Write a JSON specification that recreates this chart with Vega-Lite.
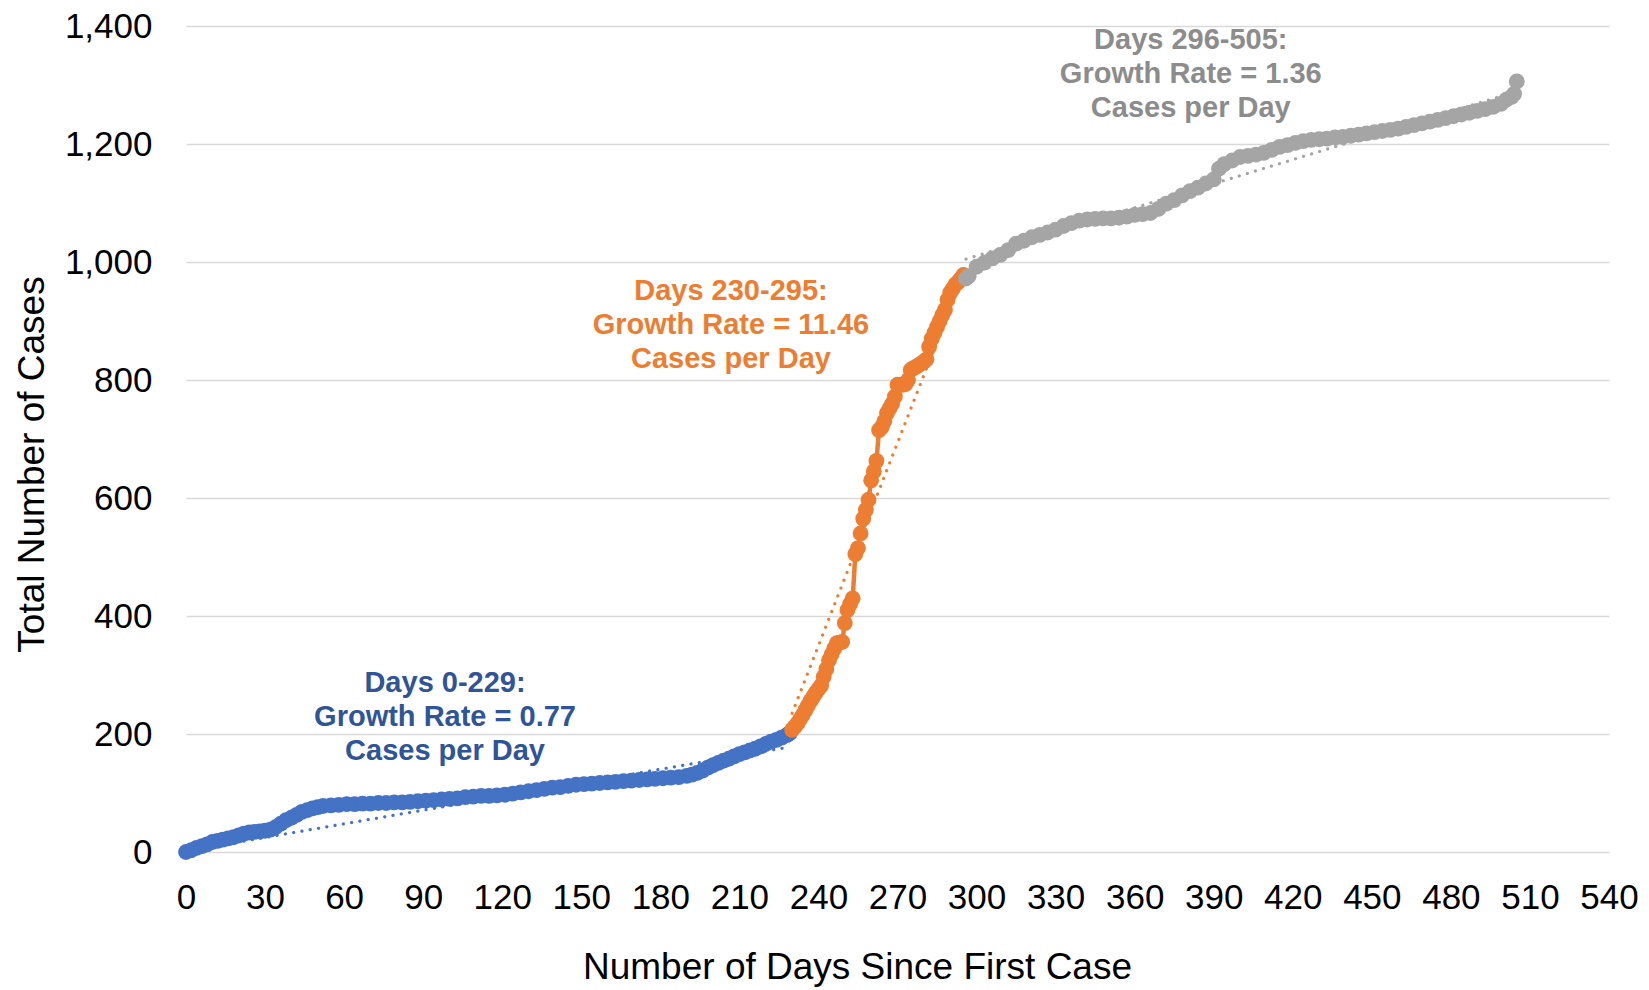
{
  "$schema": "https://vega.github.io/schema/vega-lite/v6.json",
  "width": 1423,
  "height": 826,
  "autosize": {"type": "none"},
  "padding": {"left": 186, "top": 26, "right": 40, "bottom": 138},
  "background": "white",
  "config": {
    "view": {"stroke": null},
    "font": "Liberation Sans",
    "axis": {"labelFont": "Liberation Sans", "titleFont": "Liberation Sans", "labelColor": "#000000", "titleColor": "#000000", "titleFontWeight": "normal", "labelFontSize": 35, "titleFontSize": 37, "domain": false, "ticks": false, "labelOverlap": false, "labelFlush": false}
  },
  "datasets": {
    "cases": [
      {"series": "Days 0-229", "day": 0, "value": 0}, {"series": "Days 0-229", "day": 2, "value": 3}, {"series": "Days 0-229", "day": 4, "value": 7}, {"series": "Days 0-229", "day": 6, "value": 10}, {"series": "Days 0-229", "day": 8, "value": 13}, {"series": "Days 0-229", "day": 10, "value": 17}, {"series": "Days 0-229", "day": 12, "value": 19}, {"series": "Days 0-229", "day": 14, "value": 21}, {"series": "Days 0-229", "day": 16, "value": 23}, {"series": "Days 0-229", "day": 18, "value": 25}, {"series": "Days 0-229", "day": 20, "value": 28}, {"series": "Days 0-229", "day": 22, "value": 31}, {"series": "Days 0-229", "day": 24, "value": 33}, {"series": "Days 0-229", "day": 26, "value": 34}, {"series": "Days 0-229", "day": 28, "value": 35}, {"series": "Days 0-229", "day": 30, "value": 36}, {"series": "Days 0-229", "day": 32, "value": 38}, {"series": "Days 0-229", "day": 34, "value": 42}, {"series": "Days 0-229", "day": 36, "value": 48}, {"series": "Days 0-229", "day": 38, "value": 54}, {"series": "Days 0-229", "day": 40, "value": 58}, {"series": "Days 0-229", "day": 42, "value": 63}, {"series": "Days 0-229", "day": 44, "value": 68}, {"series": "Days 0-229", "day": 46, "value": 71}, {"series": "Days 0-229", "day": 48, "value": 74}, {"series": "Days 0-229", "day": 50, "value": 76}, {"series": "Days 0-229", "day": 52, "value": 78}, {"series": "Days 0-229", "day": 55, "value": 79}, {"series": "Days 0-229", "day": 58, "value": 80}, {"series": "Days 0-229", "day": 61, "value": 81}, {"series": "Days 0-229", "day": 64, "value": 81}, {"series": "Days 0-229", "day": 67, "value": 82}, {"series": "Days 0-229", "day": 70, "value": 82}, {"series": "Days 0-229", "day": 73, "value": 83}, {"series": "Days 0-229", "day": 76, "value": 83}, {"series": "Days 0-229", "day": 79, "value": 84}, {"series": "Days 0-229", "day": 82, "value": 84}, {"series": "Days 0-229", "day": 85, "value": 85}, {"series": "Days 0-229", "day": 88, "value": 86}, {"series": "Days 0-229", "day": 91, "value": 87}, {"series": "Days 0-229", "day": 94, "value": 88}, {"series": "Days 0-229", "day": 97, "value": 89}, {"series": "Days 0-229", "day": 100, "value": 90}, {"series": "Days 0-229", "day": 103, "value": 91}, {"series": "Days 0-229", "day": 106, "value": 93}, {"series": "Days 0-229", "day": 109, "value": 94}, {"series": "Days 0-229", "day": 112, "value": 95}, {"series": "Days 0-229", "day": 115, "value": 95}, {"series": "Days 0-229", "day": 118, "value": 96}, {"series": "Days 0-229", "day": 121, "value": 97}, {"series": "Days 0-229", "day": 124, "value": 99}, {"series": "Days 0-229", "day": 127, "value": 101}, {"series": "Days 0-229", "day": 130, "value": 103}, {"series": "Days 0-229", "day": 133, "value": 105}, {"series": "Days 0-229", "day": 136, "value": 107}, {"series": "Days 0-229", "day": 139, "value": 109}, {"series": "Days 0-229", "day": 142, "value": 110}, {"series": "Days 0-229", "day": 145, "value": 112}, {"series": "Days 0-229", "day": 148, "value": 114}, {"series": "Days 0-229", "day": 151, "value": 115}, {"series": "Days 0-229", "day": 154, "value": 116}, {"series": "Days 0-229", "day": 157, "value": 117}, {"series": "Days 0-229", "day": 160, "value": 118}, {"series": "Days 0-229", "day": 163, "value": 119}, {"series": "Days 0-229", "day": 166, "value": 120}, {"series": "Days 0-229", "day": 169, "value": 121}, {"series": "Days 0-229", "day": 172, "value": 122}, {"series": "Days 0-229", "day": 175, "value": 123}, {"series": "Days 0-229", "day": 178, "value": 124}, {"series": "Days 0-229", "day": 181, "value": 125}, {"series": "Days 0-229", "day": 184, "value": 126}, {"series": "Days 0-229", "day": 187, "value": 127}, {"series": "Days 0-229", "day": 190, "value": 129}, {"series": "Days 0-229", "day": 192, "value": 131}, {"series": "Days 0-229", "day": 194, "value": 134}, {"series": "Days 0-229", "day": 196, "value": 138}, {"series": "Days 0-229", "day": 198, "value": 143}, {"series": "Days 0-229", "day": 200, "value": 147}, {"series": "Days 0-229", "day": 202, "value": 151}, {"series": "Days 0-229", "day": 204, "value": 155}, {"series": "Days 0-229", "day": 206, "value": 158}, {"series": "Days 0-229", "day": 208, "value": 162}, {"series": "Days 0-229", "day": 210, "value": 166}, {"series": "Days 0-229", "day": 212, "value": 169}, {"series": "Days 0-229", "day": 214, "value": 172}, {"series": "Days 0-229", "day": 216, "value": 175}, {"series": "Days 0-229", "day": 218, "value": 179}, {"series": "Days 0-229", "day": 220, "value": 183}, {"series": "Days 0-229", "day": 222, "value": 187}, {"series": "Days 0-229", "day": 224, "value": 190}, {"series": "Days 0-229", "day": 226, "value": 194}, {"series": "Days 0-229", "day": 228, "value": 198}, {"series": "Days 0-229", "day": 229, "value": 201},
      {"series": "Days 230-295", "day": 230, "value": 207}, {"series": "Days 230-295", "day": 231, "value": 212}, {"series": "Days 230-295", "day": 232, "value": 218}, {"series": "Days 230-295", "day": 233, "value": 225}, {"series": "Days 230-295", "day": 234, "value": 232}, {"series": "Days 230-295", "day": 235, "value": 240}, {"series": "Days 230-295", "day": 236, "value": 248}, {"series": "Days 230-295", "day": 237, "value": 256}, {"series": "Days 230-295", "day": 238, "value": 263}, {"series": "Days 230-295", "day": 239, "value": 270}, {"series": "Days 230-295", "day": 240, "value": 276}, {"series": "Days 230-295", "day": 241, "value": 282}, {"series": "Days 230-295", "day": 242, "value": 297}, {"series": "Days 230-295", "day": 243, "value": 310}, {"series": "Days 230-295", "day": 244, "value": 325}, {"series": "Days 230-295", "day": 245, "value": 335}, {"series": "Days 230-295", "day": 246, "value": 345}, {"series": "Days 230-295", "day": 247, "value": 354}, {"series": "Days 230-295", "day": 248, "value": 355}, {"series": "Days 230-295", "day": 249, "value": 356}, {"series": "Days 230-295", "day": 250, "value": 388}, {"series": "Days 230-295", "day": 251, "value": 410}, {"series": "Days 230-295", "day": 252, "value": 420}, {"series": "Days 230-295", "day": 253, "value": 430}, {"series": "Days 230-295", "day": 254, "value": 505}, {"series": "Days 230-295", "day": 255, "value": 515}, {"series": "Days 230-295", "day": 256, "value": 540}, {"series": "Days 230-295", "day": 257, "value": 565}, {"series": "Days 230-295", "day": 258, "value": 580}, {"series": "Days 230-295", "day": 259, "value": 597}, {"series": "Days 230-295", "day": 260, "value": 630}, {"series": "Days 230-295", "day": 261, "value": 645}, {"series": "Days 230-295", "day": 262, "value": 663}, {"series": "Days 230-295", "day": 263, "value": 715}, {"series": "Days 230-295", "day": 264, "value": 720}, {"series": "Days 230-295", "day": 265, "value": 730}, {"series": "Days 230-295", "day": 266, "value": 744}, {"series": "Days 230-295", "day": 267, "value": 752}, {"series": "Days 230-295", "day": 268, "value": 760}, {"series": "Days 230-295", "day": 269, "value": 772}, {"series": "Days 230-295", "day": 270, "value": 792}, {"series": "Days 230-295", "day": 271, "value": 792}, {"series": "Days 230-295", "day": 272, "value": 792}, {"series": "Days 230-295", "day": 273, "value": 793}, {"series": "Days 230-295", "day": 274, "value": 800}, {"series": "Days 230-295", "day": 275, "value": 817}, {"series": "Days 230-295", "day": 276, "value": 820}, {"series": "Days 230-295", "day": 277, "value": 822}, {"series": "Days 230-295", "day": 278, "value": 825}, {"series": "Days 230-295", "day": 279, "value": 828}, {"series": "Days 230-295", "day": 280, "value": 831}, {"series": "Days 230-295", "day": 281, "value": 835}, {"series": "Days 230-295", "day": 282, "value": 856}, {"series": "Days 230-295", "day": 283, "value": 870}, {"series": "Days 230-295", "day": 284, "value": 880}, {"series": "Days 230-295", "day": 285, "value": 890}, {"series": "Days 230-295", "day": 286, "value": 900}, {"series": "Days 230-295", "day": 287, "value": 910}, {"series": "Days 230-295", "day": 288, "value": 919}, {"series": "Days 230-295", "day": 289, "value": 936}, {"series": "Days 230-295", "day": 290, "value": 948}, {"series": "Days 230-295", "day": 291, "value": 955}, {"series": "Days 230-295", "day": 292, "value": 962}, {"series": "Days 230-295", "day": 293, "value": 966}, {"series": "Days 230-295", "day": 294, "value": 972}, {"series": "Days 230-295", "day": 295, "value": 978},
      {"series": "Days 296-505", "day": 296, "value": 972}, {"series": "Days 296-505", "day": 297, "value": 976}, {"series": "Days 296-505", "day": 300, "value": 992}, {"series": "Days 296-505", "day": 303, "value": 999}, {"series": "Days 296-505", "day": 306, "value": 1006}, {"series": "Days 296-505", "day": 309, "value": 1012}, {"series": "Days 296-505", "day": 312, "value": 1020}, {"series": "Days 296-505", "day": 315, "value": 1031}, {"series": "Days 296-505", "day": 318, "value": 1036}, {"series": "Days 296-505", "day": 321, "value": 1042}, {"series": "Days 296-505", "day": 324, "value": 1046}, {"series": "Days 296-505", "day": 327, "value": 1050}, {"series": "Days 296-505", "day": 330, "value": 1055}, {"series": "Days 296-505", "day": 333, "value": 1061}, {"series": "Days 296-505", "day": 336, "value": 1066}, {"series": "Days 296-505", "day": 339, "value": 1070}, {"series": "Days 296-505", "day": 342, "value": 1072}, {"series": "Days 296-505", "day": 345, "value": 1073}, {"series": "Days 296-505", "day": 348, "value": 1074}, {"series": "Days 296-505", "day": 351, "value": 1074}, {"series": "Days 296-505", "day": 354, "value": 1075}, {"series": "Days 296-505", "day": 357, "value": 1077}, {"series": "Days 296-505", "day": 360, "value": 1080}, {"series": "Days 296-505", "day": 363, "value": 1081}, {"series": "Days 296-505", "day": 366, "value": 1083}, {"series": "Days 296-505", "day": 369, "value": 1090}, {"series": "Days 296-505", "day": 372, "value": 1099}, {"series": "Days 296-505", "day": 375, "value": 1105}, {"series": "Days 296-505", "day": 378, "value": 1113}, {"series": "Days 296-505", "day": 381, "value": 1120}, {"series": "Days 296-505", "day": 384, "value": 1126}, {"series": "Days 296-505", "day": 387, "value": 1133}, {"series": "Days 296-505", "day": 390, "value": 1140}, {"series": "Days 296-505", "day": 392, "value": 1158}, {"series": "Days 296-505", "day": 394, "value": 1166}, {"series": "Days 296-505", "day": 397, "value": 1172}, {"series": "Days 296-505", "day": 400, "value": 1178}, {"series": "Days 296-505", "day": 403, "value": 1180}, {"series": "Days 296-505", "day": 406, "value": 1182}, {"series": "Days 296-505", "day": 409, "value": 1185}, {"series": "Days 296-505", "day": 412, "value": 1190}, {"series": "Days 296-505", "day": 415, "value": 1195}, {"series": "Days 296-505", "day": 418, "value": 1198}, {"series": "Days 296-505", "day": 421, "value": 1202}, {"series": "Days 296-505", "day": 424, "value": 1205}, {"series": "Days 296-505", "day": 427, "value": 1207}, {"series": "Days 296-505", "day": 430, "value": 1208}, {"series": "Days 296-505", "day": 433, "value": 1209}, {"series": "Days 296-505", "day": 436, "value": 1211}, {"series": "Days 296-505", "day": 439, "value": 1212}, {"series": "Days 296-505", "day": 442, "value": 1214}, {"series": "Days 296-505", "day": 445, "value": 1216}, {"series": "Days 296-505", "day": 448, "value": 1218}, {"series": "Days 296-505", "day": 451, "value": 1220}, {"series": "Days 296-505", "day": 454, "value": 1222}, {"series": "Days 296-505", "day": 457, "value": 1224}, {"series": "Days 296-505", "day": 460, "value": 1226}, {"series": "Days 296-505", "day": 463, "value": 1229}, {"series": "Days 296-505", "day": 466, "value": 1232}, {"series": "Days 296-505", "day": 469, "value": 1235}, {"series": "Days 296-505", "day": 472, "value": 1238}, {"series": "Days 296-505", "day": 475, "value": 1241}, {"series": "Days 296-505", "day": 478, "value": 1244}, {"series": "Days 296-505", "day": 481, "value": 1247}, {"series": "Days 296-505", "day": 484, "value": 1250}, {"series": "Days 296-505", "day": 487, "value": 1253}, {"series": "Days 296-505", "day": 490, "value": 1256}, {"series": "Days 296-505", "day": 493, "value": 1259}, {"series": "Days 296-505", "day": 496, "value": 1263}, {"series": "Days 296-505", "day": 499, "value": 1268}, {"series": "Days 296-505", "day": 501, "value": 1275}, {"series": "Days 296-505", "day": 503, "value": 1280}, {"series": "Days 296-505", "day": 504, "value": 1285}, {"series": "Days 296-505", "day": 505, "value": 1306}
    ],
    "trend": [
      {"series": "Days 0-229", "day": 0, "value": 1.5}, {"series": "Days 0-229", "day": 229, "value": 178},
      {"series": "Days 230-295", "day": 230, "value": 235}, {"series": "Days 230-295", "day": 295, "value": 980},
      {"series": "Days 296-505", "day": 296, "value": 1005}, {"series": "Days 296-505", "day": 505, "value": 1289}
    ],
    "notes": [
      {"series": "Days 0-229", "day": 98.3, "value": 286, "label": "Days 0-229:\nGrowth Rate = 0.77\nCases per Day"},
      {"series": "Days 230-295", "day": 206.8, "value": 951, "label": "Days 230-295:\nGrowth Rate = 11.46\nCases per Day"},
      {"series": "Days 296-505", "day": 381.3, "value": 1377, "label": "Days 296-505:\nGrowth Rate = 1.36\nCases per Day"}
    ]
  },
  "layer": [
    {
      "data": {"name": "trend"},
      "mark": {"type": "line", "strokeWidth": 3.2, "strokeDash": [0.1, 8.3], "strokeCap": "round"},
      "encoding": {
        "x": {"field": "day", "type": "quantitative", "scale": {"domain": [0, 540], "nice": false}, "axis": {"values": [0, 30, 60, 90, 120, 150, 180, 210, 240, 270, 300, 330, 360, 390, 420, 450, 480, 510, 540], "grid": false, "title": "Number of Days Since First Case", "labelPadding": 28, "titleX": 671, "titleY": 115, "titleBaseline": "middle"}},
        "y": {"field": "value", "type": "quantitative", "scale": {"domain": [0, 1400], "nice": false}, "axis": {"values": [0, 200, 400, 600, 800, 1000, 1200, 1400], "format": ",.0f", "grid": true, "gridColor": "#D9D9D9", "gridWidth": 1.4, "labelPadding": 34, "title": "Total Number of Cases", "titleX": -154, "titleY": 438, "titleAngle": -90, "titleAlign": "center", "titleBaseline": "middle"}},
        "color": {"field": "series", "type": "nominal", "scale": {"domain": ["Days 0-229", "Days 230-295", "Days 296-505"], "range": ["#4472C4", "#ED7D31", "#A5A5A5"]}, "legend": null}
      }
    },
    {
      "data": {"name": "cases"},
      "mark": {"type": "line", "strokeWidth": 4.5, "point": {"filled": true, "size": 250, "opacity": 1}},
      "encoding": {
        "x": {"field": "day", "type": "quantitative"},
        "y": {"field": "value", "type": "quantitative"},
        "color": {"field": "series", "type": "nominal", "scale": {"domain": ["Days 0-229", "Days 230-295", "Days 296-505"], "range": ["#4472C4", "#ED7D31", "#A5A5A5"]}, "legend": null}
      }
    },
    {
      "data": {"name": "notes"},
      "mark": {"type": "text", "font": "Liberation Sans", "fontWeight": "bold", "fontSize": 29, "lineHeight": 34, "lineBreak": "\n", "align": "center", "baseline": "middle"},
      "encoding": {
        "x": {"field": "day", "type": "quantitative"},
        "y": {"field": "value", "type": "quantitative"},
        "text": {"field": "label", "type": "nominal"},
        "color": {"field": "series", "type": "nominal", "scale": {"domain": ["Days 0-229", "Days 230-295", "Days 296-505"], "range": ["#2F5597", "#ED7D31", "#8C8C8C"]}, "legend": null}
      }
    }
  ],
  "resolve": {"scale": {"color": "independent"}}
}
